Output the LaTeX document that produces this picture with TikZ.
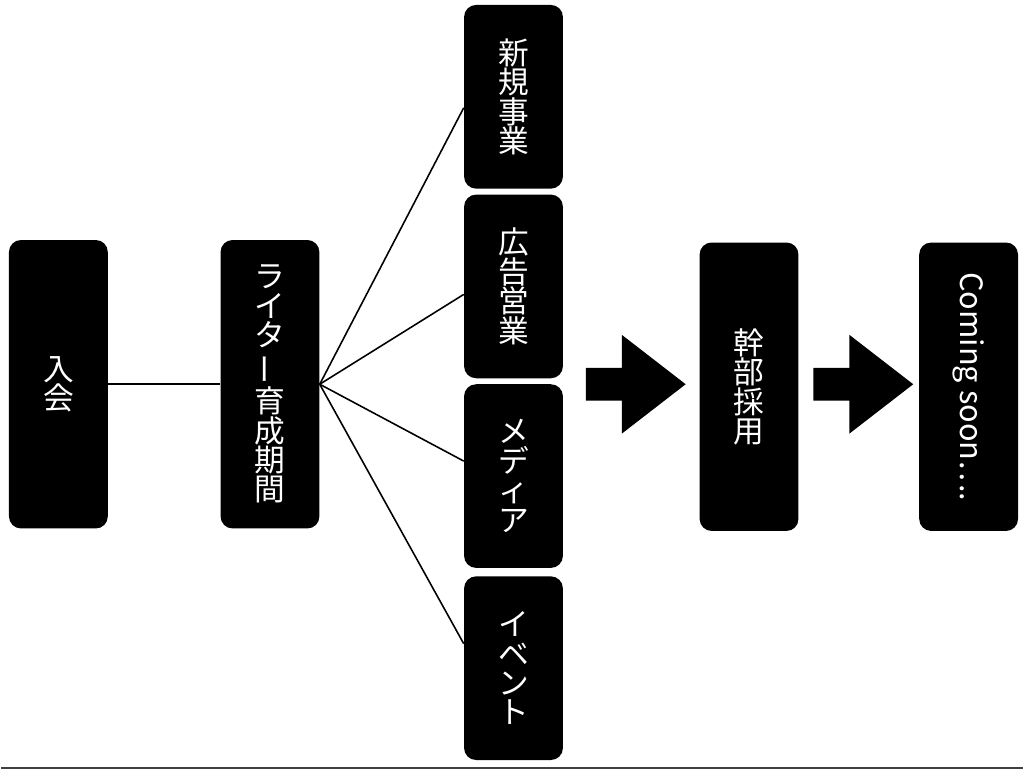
\documentclass[tikz,border=0pt]{standalone}
\usepackage{fontspec}
\newfontfamily\jp{Noto Sans CJK JP}
\usetikzlibrary{positioning}

\begin{document}
\begin{tikzpicture}[
box/.style={fill=black,rounded corners=0.24cm,text=white,align=center,inner sep=0pt,minimum width=1.98cm,font=\jp\fontsize{17.5pt}{16.8pt}\selectfont},
tall/.style={box,minimum height=5.78cm},
sub/.style={box,minimum height=3.68cm},
link/.style={line width=0.9pt}]
\fill[white](0,0)rectangle(20.48,15.42);
\draw[line width=0.04cm,color=black!75](0,0.02)--(20.48,0.02);
\node[tall](join) at(1.15,7.72){入\\会};
\node[tall](train) at(5.39,7.72){ラ\\イ\\タ\\\rotatebox[origin=c]{90}{ー}\\育\\成\\期\\間};
\node[sub](biz) at(10.27,13.48){新\\規\\事\\業};
\node[sub](ad) at(10.27,9.68){広\\告\\営\\業};
\node[sub](media) at(10.27,5.88){メ\\デ\\ィ\\ア};
\node[sub](event) at(10.27,2.03){イ\\ベ\\ン\\ト};
\node[tall](exec) at(14.99,7.67){幹\\部\\採\\用};
\node[tall](soon) at(19.39,7.67){\rotatebox{-90}{Coming soon….}};
\draw[link](join)--(train);
\foreach \n/\s in {biz/-0.22,ad/-0.16,media/0.30,event/0.49}
\draw[link](train.east)--([yshift=\s cm]\n.west);
\coordinate(arrA) at(11.72,7.72);
\coordinate(arrB) at(16.28,7.72);
\foreach \a in {arrA,arrB}
\fill(\a)++(0,0.33)--++(0.72,0)--++(0,0.66)--++(1.28,-0.99)--++(-1.28,-0.99)--++(0,0.66)--++(-0.72,0)--cycle;
\end{tikzpicture}
\end{document}
